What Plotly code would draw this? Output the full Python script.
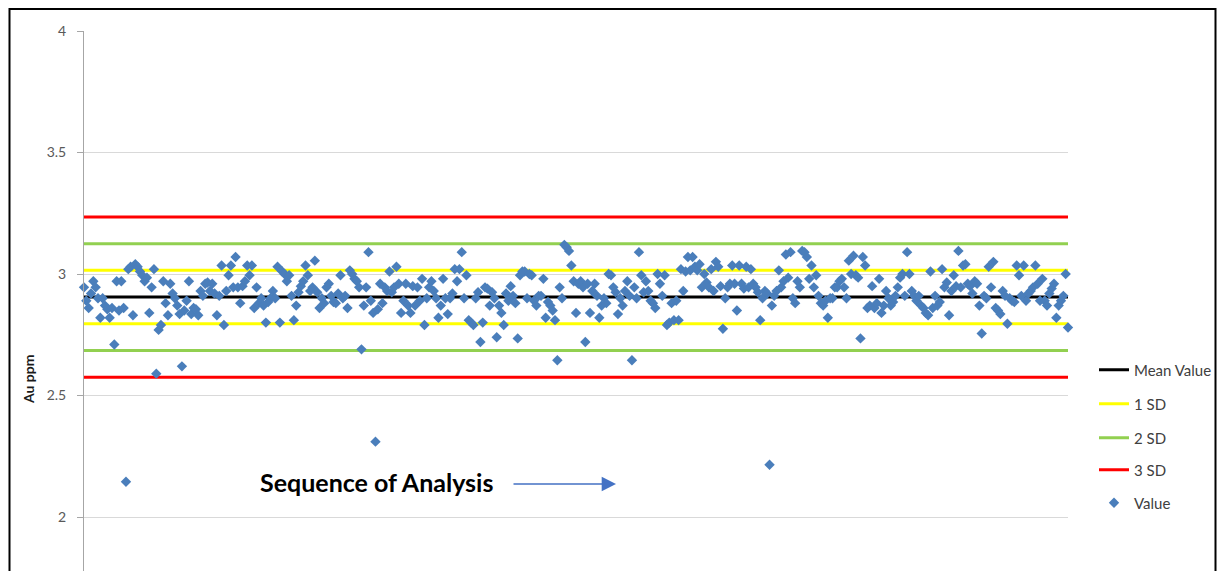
import plotly.graph_objects as go

# ---- data (Au ppm per analysis, in sequence) ----
seg1 = [2.945, 2.89, 2.86, 2.92, 2.97, 2.945, 2.90, 2.82, 2.90, 2.87, 2.855, 2.82, 2.86, 2.71, 2.97, 2.85,
        2.97, 2.86, 2.145, 3.02, 3.03, 2.83, 3.04, 3.03, 3.01, 2.995, 2.97, 2.985, 2.84, 2.945, 3.02, 2.59,
        2.77, 2.79, 2.97, 2.88, 2.83, 2.96, 2.92, 2.90, 2.87, 2.835, 2.62, 2.85, 2.89]
seg2 = [2.97, 2.835, 2.86, 2.855, 2.83, 2.93, 2.91, 2.96, 2.965, 2.93, 2.96, 2.92, 2.83, 2.91, 3.035, 2.79,
        2.93, 2.995, 3.035, 2.945, 3.07, 2.945, 2.88, 2.95, 2.97, 3.035, 2.995, 3.035, 2.86, 2.945, 2.88, 2.90,
        2.87, 2.80, 2.885, 2.90, 2.93, 2.90, 3.03, 2.80, 3.01, 3.00, 2.97, 2.995, 2.91, 2.81, 2.87, 2.925, 2.95]
seg3 = [2.97, 3.035, 2.995, 2.93, 2.945, 3.055, 2.925, 2.86, 2.90, 2.88, 2.945, 2.96, 2.91, 2.885, 2.88, 2.92,
        2.995, 2.90, 2.91, 2.86, 3.015, 3.00, 2.98, 2.97, 2.945, 2.69, 2.87, 2.945, 3.09, 2.89, 2.84, 2.31,
        2.855, 2.96, 2.88, 2.945, 2.93, 3.01, 2.925, 2.945, 3.03, 2.96, 2.84, 2.89, 2.96, 2.87]
seg4 = [2.84, 2.95, 2.87, 2.945, 2.89, 2.98, 2.79, 2.90, 2.945, 2.97, 2.93, 2.90, 2.82, 2.87, 2.98, 2.90,
        2.835, 2.90, 2.92, 3.02, 2.97, 3.02, 3.09, 2.90, 2.995, 2.81, 2.80, 2.79, 2.90, 2.925, 2.72, 2.80,
        2.945, 2.94, 2.87, 2.925, 2.90, 2.74, 2.87, 2.84, 2.79, 2.92, 2.89, 2.95, 2.91, 2.88, 2.735, 2.995, 3.01]
seg5 = [3.01, 2.90, 3.00, 2.995, 2.89, 2.87, 2.91, 2.91, 2.98, 2.82, 2.885, 2.87, 2.85, 2.81, 2.645, 2.945,
        2.90, 3.12, 3.11, 3.095, 3.035, 2.97, 2.84, 2.96, 2.97, 2.945, 2.72, 2.96, 2.84, 2.93, 2.96, 2.91,
        2.82, 2.87, 2.90, 2.88, 3.00, 2.995, 2.945, 2.925, 2.835, 2.90, 2.87, 2.93, 2.97, 2.91, 2.645]
seg6 = [2.945, 2.90, 3.09, 2.995, 2.925, 2.97, 2.93, 2.89, 2.88, 2.86, 3.00, 2.96, 2.91, 2.995, 2.79, 2.80,
        2.88, 2.81, 2.89, 2.81, 3.02, 2.93, 3.01, 3.07, 3.015, 3.07, 3.03, 3.015, 3.04, 2.945, 3.00, 2.965,
        2.945, 3.02, 2.93, 3.05, 3.03, 2.95, 2.775, 2.90, 2.945, 2.96, 3.035, 2.96, 2.85, 3.035, 2.96, 2.94]
seg7 = [3.03, 2.945, 3.02, 2.96, 2.945, 2.925, 2.81, 2.90, 2.93, 2.92, 2.215, 2.87, 2.91, 2.93, 3.015, 2.945,
        2.97, 3.08, 2.985, 3.09, 2.90, 2.88, 2.97, 2.945, 3.095, 3.09, 3.07, 2.98, 3.035, 2.945, 2.995, 2.91,
        2.88, 2.87, 2.89, 2.82, 2.90, 2.90, 2.945, 2.945, 2.97, 2.98, 2.945, 2.90, 3.055, 3.00, 3.075]
seg8 = [2.995, 2.985, 2.735, 3.07, 3.035, 2.86, 2.87, 2.95, 2.86, 2.88, 2.98, 2.84, 2.87, 2.93, 2.90, 2.87,
        2.885, 2.91, 2.945, 2.985, 3.00, 2.91, 3.09, 3.00, 2.93, 2.91, 2.89, 2.91, 2.87, 2.86, 2.84, 2.83,
        3.01, 2.86, 2.91, 2.87, 2.885, 3.02, 2.945, 2.965, 2.83, 2.93, 2.995, 2.95, 3.095, 2.945, 3.035]
seg9 = [3.04, 2.96, 2.95, 2.92, 2.97, 2.96, 2.87, 2.755, 2.91, 2.90, 3.03, 2.945, 3.05, 2.86, 2.85, 2.835,
        2.93, 2.91, 2.795, 2.90, 2.89, 2.885, 3.035, 2.995, 2.91, 3.035, 2.89, 2.92, 2.93, 2.945, 3.035, 2.96,
        2.89, 2.98, 2.89, 2.87, 2.92, 2.94, 2.96, 2.82, 2.87, 2.89, 2.91, 3.00, 2.78]

values = seg1 + seg2 + seg3 + seg4 + seg5 + seg6 + seg7 + seg8 + seg9
sequence = list(range(1, len(values) + 1))

mean_value = 2.905
sd1_limits = [3.015, 2.795]
sd2_limits = [3.125, 2.685]
sd3_limits = [3.235, 2.575]

y_ticks = [2, 2.5, 3, 3.5, 4]
y_tick_labels = ["2", "2.5", "3", "3.5", "4"]

FONT = "Lato"
PAGE_W, PAGE_H = 1225, 579
OFF = 8  # page body margin
W, H = PAGE_W - 2 * OFF, PAGE_H - 2 * OFF   # avoid any page overflow
# plot area in page pixels
PX0, PX1, PY0 = 84, 1068, 31
PY1 = OFF + H
L, R, T, B = PX0 - OFF, OFF + W - PX1, PY0 - OFF, 0
PW, PH = PX1 - PX0, PY1 - PY0
Y_TOP = 4.0
UNIT = 243.0  # px per ppm in the reference
Y_BOTTOM = Y_TOP - PH / UNIT

def px_x(p):
    return (p - PX0) / PW

def px_y(p):
    return (PY1 - p) / PH

def cx(p):
    return (p - OFF) / W

def cy(p):
    return 1 - (p - OFF) / H

first, last = sequence[0], sequence[-1]

def limit_xy(levels):
    xs, ys = [], []
    for lv in levels:
        xs += [first, last, None]
        ys += [lv, lv, None]
    return xs, ys

fig = go.Figure()

xs, ys = limit_xy(sd3_limits)
fig.add_trace(go.Scatter(x=xs, y=ys, mode="lines", name="3 SD",
                         line=dict(color="#FF0000", width=3), legend="legend4"))
xs, ys = limit_xy(sd2_limits)
fig.add_trace(go.Scatter(x=xs, y=ys, mode="lines", name="2 SD",
                         line=dict(color="#92D050", width=3), legend="legend3"))
xs, ys = limit_xy(sd1_limits)
fig.add_trace(go.Scatter(x=xs, y=ys, mode="lines", name="1 SD",
                         line=dict(color="#FFFF00", width=3), legend="legend2"))
xs, ys = limit_xy([mean_value])
fig.add_trace(go.Scatter(x=xs, y=ys, mode="lines", name="Mean Value",
                         line=dict(color="#000000", width=3), legend="legend"))
fig.add_trace(go.Scatter(x=sequence, y=values, mode="markers", name="Value",
                         marker=dict(symbol="diamond", size=8, color="#4A7EBB"),
                         cliponaxis=False, legend="legend5"))

leg_common = dict(xref="container", yref="container", xanchor="left", yanchor="middle",
                  bgcolor="rgba(0,0,0,0)", borderwidth=0,
                  font=dict(family=FONT, size=15, color="#404040"))
leg_x = cx(1094)
fig.update_layout(
    legend=dict(x=leg_x, y=cy(370), **leg_common),
    legend2=dict(x=leg_x, y=cy(404), **leg_common),
    legend3=dict(x=leg_x, y=cy(438), **leg_common),
    legend4=dict(x=leg_x, y=cy(470), **leg_common),
    legend5=dict(x=leg_x, y=cy(503), **leg_common),
)

fig.update_layout(
    width=W, height=H,
    margin=dict(l=L, r=R, t=T, b=B, pad=0),
    paper_bgcolor="white", plot_bgcolor="white",
    font=dict(family=FONT, color="#595959"),
    showlegend=True,
    xaxis=dict(range=[first, last], showgrid=False, zeroline=False, showline=False,
               showticklabels=False, ticks=""),
    yaxis=dict(range=[Y_BOTTOM, Y_TOP], tickvals=y_ticks, ticktext=y_tick_labels,
               showgrid=True, gridcolor="#D9D9D9", gridwidth=1, zeroline=False,
               showline=True, linecolor="#A6A6A6", linewidth=1,
               ticks="outside", ticklen=6, tickcolor="#A6A6A6",
               ticklabelstandoff=8,
               tickfont=dict(family=FONT, size=14, color="#595959")),
)

fig.add_annotation(xref="paper", yref="paper", x=px_x(29), y=px_y(379), xanchor="center",
                   yanchor="middle", text="<b>Au ppm</b>",
                   textangle=-90, showarrow=False, font=dict(family=FONT, size=14, color="#1a1a1a"))
fig.add_annotation(xref="paper", yref="paper", x=px_x(258), y=px_y(482), xanchor="left",
                   yanchor="middle", text="<b>Sequence of Analysis</b>", showarrow=False,
                   font=dict(family=FONT, size=25, color="#000000"))
fig.add_annotation(xref="paper", yref="paper", x=px_x(616), y=px_y(484), ax=-104, ay=0,
                   text="", showarrow=True, arrowhead=2, arrowsize=2.2, arrowwidth=1.3,
                   arrowcolor="#4472C4")

fig.add_shape(type="rect", xref="paper", yref="paper",
              x0=px_x(9.5), x1=px_x(OFF + W - 1.5), y0=px_y(PY1 + 20), y1=px_y(OFF + 1),
              line=dict(color="black", width=2), fillcolor="rgba(0,0,0,0)", layer="above")

fig.write_html("out.html")
